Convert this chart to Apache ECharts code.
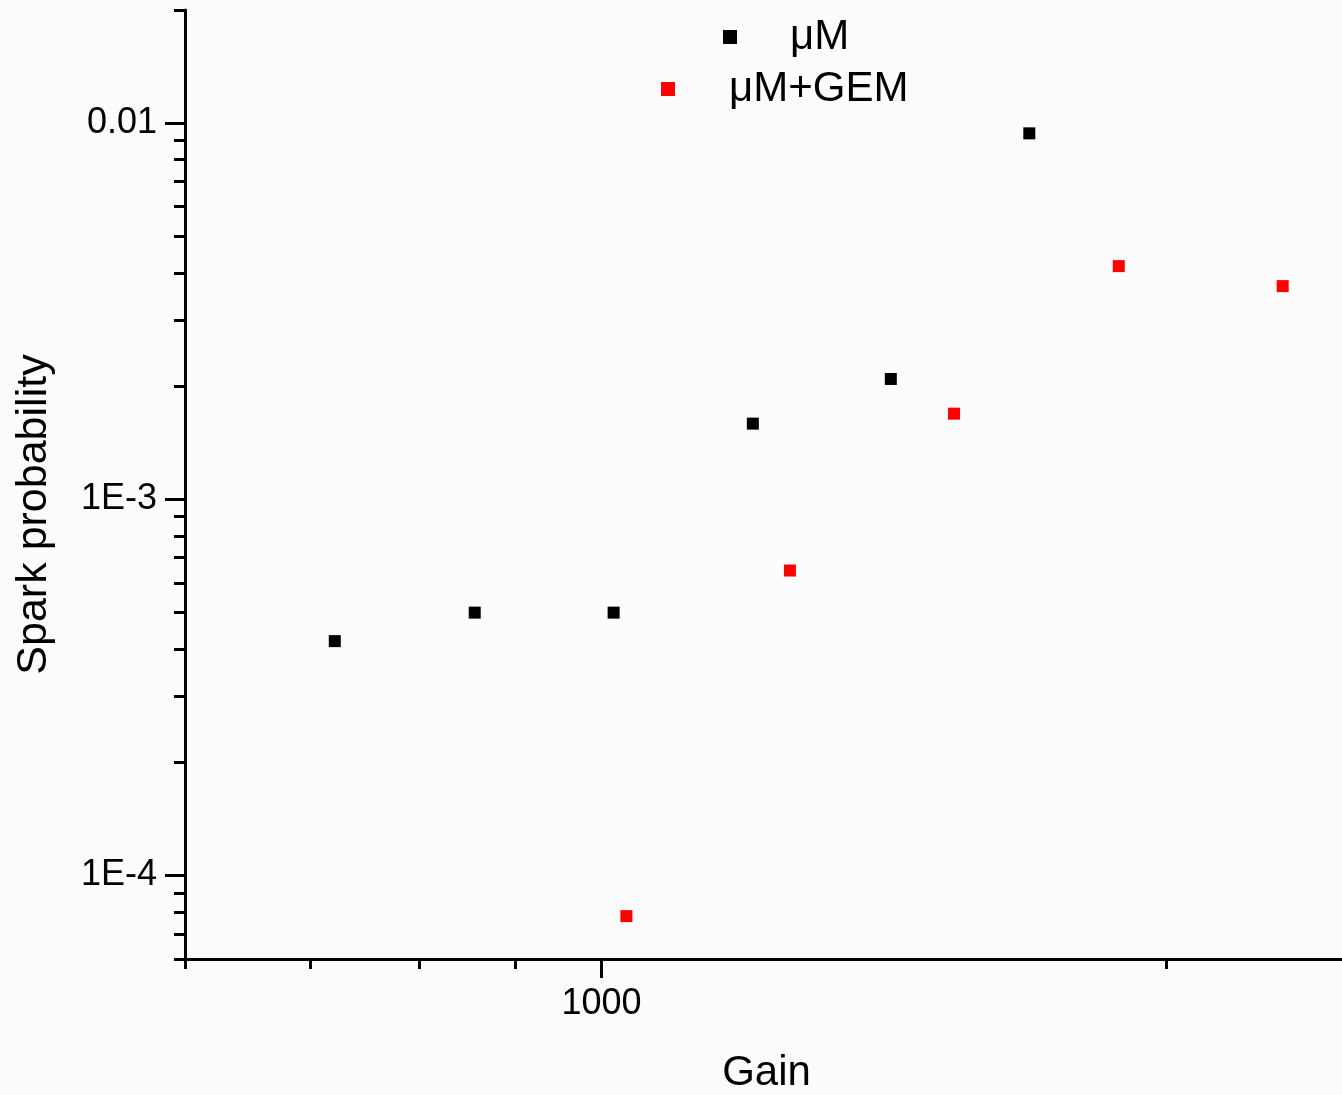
<!DOCTYPE html>
<html>
<head>
<meta charset="utf-8">
<script src="https://cdn.jsdelivr.net/npm/echarts@6/dist/echarts.min.js"></script>
<style>
html,body{margin:0;padding:0;background:#fbfbfb;}
#chart{width:1342px;height:1095px;}
</style>
</head>
<body>
<div id="chart"></div>
<script>
// ---- data ----
const seriesNames = ['μM', 'μM+GEM'];
const gainM = [721, 856, 1015, 1204, 1426, 1690];
const probM = [4.2e-4, 5.0e-4, 5.0e-4, 1.59e-3, 2.09e-3, 9.4e-3];
const gainGEM = [1031, 1260, 1541, 1886, 2306];
const probGEM = [7.8e-5, 6.47e-4, 1.69e-3, 4.17e-3, 3.69e-3];

const xMajorTicks = [1000];
const xMajorLabels = ['1000'];
const xMinorTicks = [600, 700, 800, 900, 2000];
const yMajorTicks = [1e-4, 1e-3, 1e-2];
const yMajorLabels = ['1E-4', '1E-3', '0.01'];
const yMinorTicks = [6e-5, 7e-5, 8e-5, 9e-5,
  2e-4, 3e-4, 4e-4, 5e-4, 6e-4, 7e-4, 8e-4, 9e-4,
  2e-3, 3e-3, 4e-3, 5e-3, 6e-3, 7e-3, 8e-3, 9e-3, 2e-2];

const xMin = 600, xMax = 2480;
const yMin = 6e-5, yMax = 0.02;

// ---- chart ----
const FONT = 'Liberation Sans, Arial, sans-serif';
const chart = echarts.init(document.getElementById('chart'));

function labelFor(values, labels) {
  return function (v) {
    for (let i = 0; i < values.length; i++) {
      if (Math.abs(Math.log10(v) - Math.log10(values[i])) < 1e-6) return labels[i];
    }
    return '';
  };
}

const axisLine = { show: true, lineStyle: { color: '#000', width: 3 } };

chart.setOption({
  backgroundColor: '#fbfbfb',
  animation: false,
  grid: { left: 185, top: 10, right: 0, bottom: 136, containLabel: false, outerBoundsMode: 'none' },
  legend: [
    {
      data: [seriesNames[0]], left: 718, top: 11, orient: 'vertical',
      icon: 'rect', itemWidth: 14, itemHeight: 14,
      textStyle: { fontFamily: FONT, fontSize: 42, color: '#000', padding: [0, 0, 0, 48] }
    },
    {
      data: [seriesNames[1]], left: 656, top: 63, orient: 'vertical',
      icon: 'rect', itemWidth: 14, itemHeight: 14,
      textStyle: { fontFamily: FONT, fontSize: 42, color: '#000', padding: [0, 0, 0, 49] }
    }
  ],
  xAxis: [
    {
      type: 'log', logBase: 10, min: xMin, max: xMax, position: 'bottom',
      axisLine: axisLine,
      splitLine: { show: false },
      axisTick: { show: true, inside: false, length: 19, lineStyle: { color: '#000', width: 3 }, customValues: xMajorTicks },
      axisLabel: { show: true, customValues: xMajorTicks, formatter: labelFor(xMajorTicks, xMajorLabels),
        fontFamily: FONT, fontSize: 36, color: '#000', margin: 27 },
      name: 'Gain', nameLocation: 'middle', nameGap: 93,
      nameTextStyle: { fontFamily: FONT, fontSize: 42, color: '#000', padding: [0, 0, 0, 6] }
    },
    {
      type: 'log', logBase: 10, min: xMin, max: xMax, position: 'bottom',
      axisLine: { show: false },
      splitLine: { show: false },
      axisTick: { show: true, inside: false, length: 10, lineStyle: { color: '#000', width: 3 }, customValues: xMinorTicks },
      axisLabel: { show: false }
    }
  ],
  yAxis: [
    {
      type: 'log', logBase: 10, min: yMin, max: yMax, position: 'left',
      axisLine: axisLine,
      splitLine: { show: false },
      axisTick: { show: true, inside: false, length: 20, lineStyle: { color: '#000', width: 3 }, customValues: yMajorTicks },
      axisLabel: { show: true, customValues: yMajorTicks, formatter: labelFor(yMajorTicks, yMajorLabels),
        fontFamily: FONT, fontSize: 36, color: '#000', margin: 28 },
      name: 'Spark probability', nameLocation: 'middle', nameGap: 129, nameRotate: 90,
      nameTextStyle: { fontFamily: FONT, fontSize: 43, color: '#000', padding: [0, 60, 0, 0] }
    },
    {
      type: 'log', logBase: 10, min: yMin, max: yMax, position: 'left',
      axisLine: { show: false },
      splitLine: { show: false },
      axisTick: { show: true, inside: false, length: 11, lineStyle: { color: '#000', width: 3 }, customValues: yMinorTicks },
      axisLabel: { show: false }
    }
  ],
  series: [
    {
      name: seriesNames[0], type: 'scatter', xAxisIndex: 0, yAxisIndex: 0,
      symbol: 'rect', symbolSize: 12, itemStyle: { color: '#000', opacity: 1 },
      data: gainM.map((g, i) => [g, probM[i]])
    },
    {
      name: seriesNames[1], type: 'scatter', xAxisIndex: 0, yAxisIndex: 0,
      symbol: 'rect', symbolSize: 12, itemStyle: { color: '#ff0000', opacity: 1 },
      data: gainGEM.map((g, i) => [g, probGEM[i]])
    }
  ]
});
</script>
</body>
</html>
